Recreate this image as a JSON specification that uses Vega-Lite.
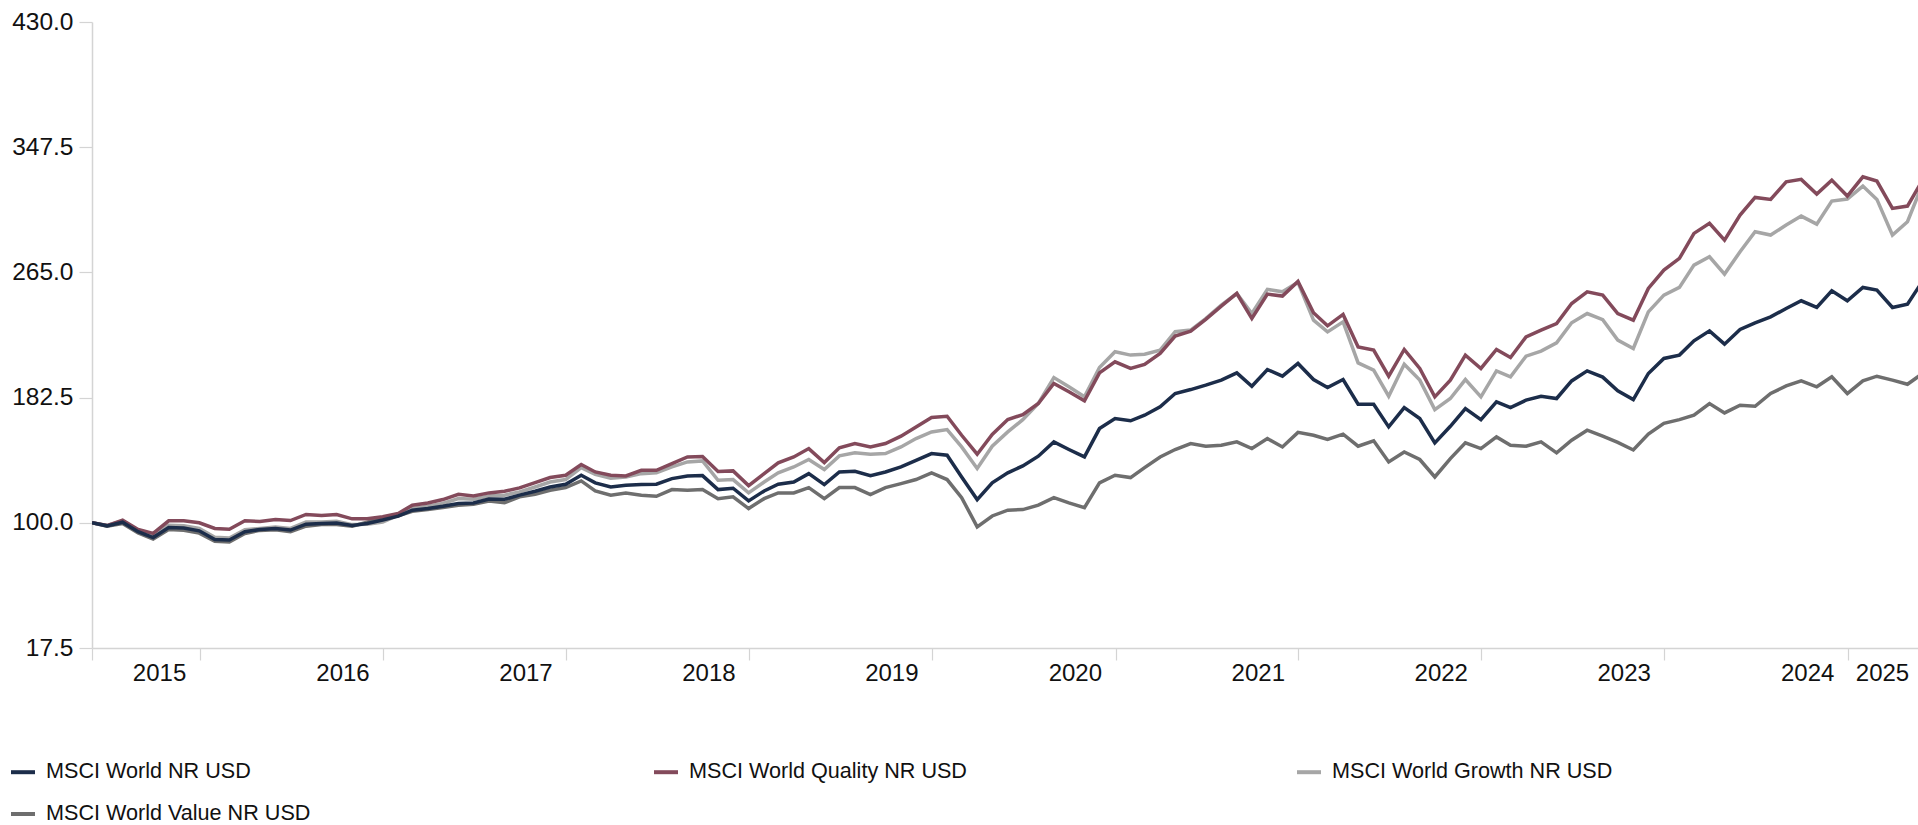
{
"$schema": "https://vega.github.io/schema/vega-lite/v6.json",
"width": 1826, "height": 626,
"autosize": {"type": "none"},
"padding": {"left": 92, "top": 22, "right": 0, "bottom": 177},
"background": "white",
"config": {"view": {"stroke": null}, "font": "Liberation Sans"},
"data": {"values": [
{"d":"2015-05-31","MSCI World NR USD":100,"MSCI World Quality NR USD":100,"MSCI World Growth NR USD":100,"MSCI World Value NR USD":100},
{"d":"2015-06-30","MSCI World NR USD":98.0,"MSCI World Quality NR USD":98.2,"MSCI World Growth NR USD":98.3,"MSCI World Value NR USD":97.7},
{"d":"2015-07-31","MSCI World NR USD":100.4,"MSCI World Quality NR USD":101.8,"MSCI World Growth NR USD":101.2,"MSCI World Value NR USD":99.6},
{"d":"2015-08-31","MSCI World NR USD":94.1,"MSCI World Quality NR USD":95.6,"MSCI World Growth NR USD":94.9,"MSCI World Value NR USD":93.3},
{"d":"2015-09-30","MSCI World NR USD":90.3,"MSCI World Quality NR USD":93.0,"MSCI World Growth NR USD":91.3,"MSCI World Value NR USD":89.3},
{"d":"2015-10-31","MSCI World NR USD":96.9,"MSCI World Quality NR USD":101.3,"MSCI World Growth NR USD":98.3,"MSCI World Value NR USD":95.6},
{"d":"2015-11-30","MSCI World NR USD":96.5,"MSCI World Quality NR USD":101.3,"MSCI World Growth NR USD":98.0,"MSCI World Value NR USD":95.1},
{"d":"2015-12-31","MSCI World NR USD":94.7,"MSCI World Quality NR USD":100.0,"MSCI World Growth NR USD":96.3,"MSCI World Value NR USD":93.2},
{"d":"2016-01-31","MSCI World NR USD":89.0,"MSCI World Quality NR USD":96.3,"MSCI World Growth NR USD":90.5,"MSCI World Value NR USD":87.8},
{"d":"2016-02-29","MSCI World NR USD":88.6,"MSCI World Quality NR USD":95.8,"MSCI World Growth NR USD":90.0,"MSCI World Value NR USD":87.3},
{"d":"2016-03-31","MSCI World NR USD":94.1,"MSCI World Quality NR USD":101.3,"MSCI World Growth NR USD":95.4,"MSCI World Value NR USD":93.0},
{"d":"2016-04-30","MSCI World NR USD":95.6,"MSCI World Quality NR USD":100.9,"MSCI World Growth NR USD":96.3,"MSCI World Value NR USD":95.0},
{"d":"2016-05-31","MSCI World NR USD":96.3,"MSCI World Quality NR USD":102.2,"MSCI World Growth NR USD":97.3,"MSCI World Value NR USD":95.4},
{"d":"2016-06-30","MSCI World NR USD":95.2,"MSCI World Quality NR USD":101.5,"MSCI World Growth NR USD":96.3,"MSCI World Value NR USD":94.1},
{"d":"2016-07-31","MSCI World NR USD":99.1,"MSCI World Quality NR USD":105.5,"MSCI World Growth NR USD":100.5,"MSCI World Value NR USD":97.8},
{"d":"2016-08-31","MSCI World NR USD":99.6,"MSCI World Quality NR USD":104.8,"MSCI World Growth NR USD":100.6,"MSCI World Value NR USD":98.8},
{"d":"2016-09-30","MSCI World NR USD":99.8,"MSCI World Quality NR USD":105.5,"MSCI World Growth NR USD":101.0,"MSCI World Value NR USD":98.9},
{"d":"2016-10-31","MSCI World NR USD":98.2,"MSCI World Quality NR USD":102.6,"MSCI World Growth NR USD":98.8,"MSCI World Value NR USD":97.8},
{"d":"2016-11-30","MSCI World NR USD":99.6,"MSCI World Quality NR USD":102.6,"MSCI World Growth NR USD":99.0,"MSCI World Value NR USD":100.4},
{"d":"2016-12-31","MSCI World NR USD":101.8,"MSCI World Quality NR USD":104.0,"MSCI World Growth NR USD":100.5,"MSCI World Value NR USD":103.2},
{"d":"2017-01-31","MSCI World NR USD":104.4,"MSCI World Quality NR USD":106.2,"MSCI World Growth NR USD":105.0,"MSCI World Value NR USD":104.7},
{"d":"2017-02-28","MSCI World NR USD":108.3,"MSCI World Quality NR USD":111.6,"MSCI World Growth NR USD":109.4,"MSCI World Value NR USD":107.6},
{"d":"2017-03-31","MSCI World NR USD":109.4,"MSCI World Quality NR USD":113.1,"MSCI World Growth NR USD":110.9,"MSCI World Value NR USD":108.7},
{"d":"2017-04-30","MSCI World NR USD":110.9,"MSCI World Quality NR USD":115.3,"MSCI World Growth NR USD":112.7,"MSCI World Value NR USD":110.0},
{"d":"2017-05-31","MSCI World NR USD":112.7,"MSCI World Quality NR USD":118.8,"MSCI World Growth NR USD":116.0,"MSCI World Value NR USD":111.6},
{"d":"2017-06-30","MSCI World NR USD":113.1,"MSCI World Quality NR USD":117.7,"MSCI World Growth NR USD":115.5,"MSCI World Value NR USD":112.2},
{"d":"2017-07-31","MSCI World NR USD":115.7,"MSCI World Quality NR USD":119.7,"MSCI World Growth NR USD":117.7,"MSCI World Value NR USD":114.4},
{"d":"2017-08-31","MSCI World NR USD":115.5,"MSCI World Quality NR USD":120.8,"MSCI World Growth NR USD":118.2,"MSCI World Value NR USD":113.3},
{"d":"2017-09-30","MSCI World NR USD":118.2,"MSCI World Quality NR USD":123.0,"MSCI World Growth NR USD":120.4,"MSCI World Value NR USD":117.1},
{"d":"2017-10-31","MSCI World NR USD":120.8,"MSCI World Quality NR USD":126.5,"MSCI World Growth NR USD":123.6,"MSCI World Value NR USD":118.8},
{"d":"2017-11-30","MSCI World NR USD":123.6,"MSCI World Quality NR USD":129.8,"MSCI World Growth NR USD":126.9,"MSCI World Value NR USD":121.4},
{"d":"2017-12-31","MSCI World NR USD":125.4,"MSCI World Quality NR USD":131.3,"MSCI World Growth NR USD":128.5,"MSCI World Value NR USD":123.2},
{"d":"2018-01-31","MSCI World NR USD":131.3,"MSCI World Quality NR USD":138.4,"MSCI World Growth NR USD":136.4,"MSCI World Value NR USD":127.6},
{"d":"2018-02-28","MSCI World NR USD":126.3,"MSCI World Quality NR USD":133.5,"MSCI World Growth NR USD":132.0,"MSCI World Value NR USD":121.0},
{"d":"2018-03-31","MSCI World NR USD":123.6,"MSCI World Quality NR USD":131.3,"MSCI World Growth NR USD":129.3,"MSCI World Value NR USD":118.2},
{"d":"2018-04-30","MSCI World NR USD":124.7,"MSCI World Quality NR USD":130.9,"MSCI World Growth NR USD":130.2,"MSCI World Value NR USD":119.7},
{"d":"2018-05-31","MSCI World NR USD":125.2,"MSCI World Quality NR USD":134.6,"MSCI World Growth NR USD":132.4,"MSCI World Value NR USD":118.2},
{"d":"2018-06-30","MSCI World NR USD":125.4,"MSCI World Quality NR USD":134.6,"MSCI World Growth NR USD":132.9,"MSCI World Value NR USD":117.5},
{"d":"2018-07-31","MSCI World NR USD":129.1,"MSCI World Quality NR USD":139.0,"MSCI World Growth NR USD":136.8,"MSCI World Value NR USD":121.9},
{"d":"2018-08-31","MSCI World NR USD":130.9,"MSCI World Quality NR USD":143.4,"MSCI World Growth NR USD":140.1,"MSCI World Value NR USD":121.4},
{"d":"2018-09-30","MSCI World NR USD":131.1,"MSCI World Quality NR USD":143.7,"MSCI World Growth NR USD":140.8,"MSCI World Value NR USD":122.0},
{"d":"2018-10-31","MSCI World NR USD":121.9,"MSCI World Quality NR USD":133.8,"MSCI World Growth NR USD":128.0,"MSCI World Value NR USD":115.9},
{"d":"2018-11-30","MSCI World NR USD":122.8,"MSCI World Quality NR USD":134.2,"MSCI World Growth NR USD":128.5,"MSCI World Value NR USD":117.1},
{"d":"2018-12-31","MSCI World NR USD":114.4,"MSCI World Quality NR USD":124.5,"MSCI World Growth NR USD":119.7,"MSCI World Value NR USD":109.4},
{"d":"2019-01-31","MSCI World NR USD":121.0,"MSCI World Quality NR USD":132.4,"MSCI World Growth NR USD":126.9,"MSCI World Value NR USD":115.9},
{"d":"2019-02-28","MSCI World NR USD":125.4,"MSCI World Quality NR USD":139.5,"MSCI World Growth NR USD":132.9,"MSCI World Value NR USD":119.7},
{"d":"2019-03-31","MSCI World NR USD":126.9,"MSCI World Quality NR USD":143.4,"MSCI World Growth NR USD":136.8,"MSCI World Value NR USD":119.7},
{"d":"2019-04-30","MSCI World NR USD":132.4,"MSCI World Quality NR USD":148.9,"MSCI World Growth NR USD":141.7,"MSCI World Value NR USD":123.2},
{"d":"2019-05-31","MSCI World NR USD":125.2,"MSCI World Quality NR USD":139.7,"MSCI World Growth NR USD":135.1,"MSCI World Value NR USD":115.9},
{"d":"2019-06-30","MSCI World NR USD":133.5,"MSCI World Quality NR USD":149.4,"MSCI World Growth NR USD":144.1,"MSCI World Value NR USD":123.2},
{"d":"2019-07-31","MSCI World NR USD":134.0,"MSCI World Quality NR USD":152.2,"MSCI World Growth NR USD":146.1,"MSCI World Value NR USD":123.2},
{"d":"2019-08-31","MSCI World NR USD":131.1,"MSCI World Quality NR USD":150.0,"MSCI World Growth NR USD":145.2,"MSCI World Value NR USD":118.6},
{"d":"2019-09-30","MSCI World NR USD":133.5,"MSCI World Quality NR USD":152.2,"MSCI World Growth NR USD":145.6,"MSCI World Value NR USD":123.2},
{"d":"2019-10-31","MSCI World NR USD":136.8,"MSCI World Quality NR USD":157.1,"MSCI World Growth NR USD":150.0,"MSCI World Value NR USD":125.8},
{"d":"2019-11-30","MSCI World NR USD":141.2,"MSCI World Quality NR USD":163.2,"MSCI World Growth NR USD":155.5,"MSCI World Value NR USD":128.5},
{"d":"2019-12-31","MSCI World NR USD":145.6,"MSCI World Quality NR USD":169.4,"MSCI World Growth NR USD":159.9,"MSCI World Value NR USD":132.9},
{"d":"2020-01-31","MSCI World NR USD":144.5,"MSCI World Quality NR USD":170.2,"MSCI World Growth NR USD":161.4,"MSCI World Value NR USD":128.5},
{"d":"2020-02-29","MSCI World NR USD":130.2,"MSCI World Quality NR USD":157.7,"MSCI World Growth NR USD":150.0,"MSCI World Value NR USD":116.6},
{"d":"2020-03-31","MSCI World NR USD":115.3,"MSCI World Quality NR USD":145.2,"MSCI World Growth NR USD":135.8,"MSCI World Value NR USD":97.3},
{"d":"2020-04-30","MSCI World NR USD":126.4,"MSCI World Quality NR USD":158.2,"MSCI World Growth NR USD":150.5,"MSCI World Value NR USD":104.5},
{"d":"2020-05-31","MSCI World NR USD":132.9,"MSCI World Quality NR USD":168.0,"MSCI World Growth NR USD":159.9,"MSCI World Value NR USD":108.3},
{"d":"2020-06-30","MSCI World NR USD":137.5,"MSCI World Quality NR USD":171.3,"MSCI World Growth NR USD":168.0,"MSCI World Value NR USD":108.7},
{"d":"2020-07-31","MSCI World NR USD":143.9,"MSCI World Quality NR USD":178.6,"MSCI World Growth NR USD":178.6,"MSCI World Value NR USD":111.6},
{"d":"2020-08-31","MSCI World NR USD":153.3,"MSCI World Quality NR USD":191.8,"MSCI World Growth NR USD":195.7,"MSCI World Value NR USD":116.6},
{"d":"2020-09-30","MSCI World NR USD":148.3,"MSCI World Quality NR USD":186.3,"MSCI World Growth NR USD":189.6,"MSCI World Value NR USD":113.1},
{"d":"2020-10-31","MSCI World NR USD":143.4,"MSCI World Quality NR USD":180.4,"MSCI World Growth NR USD":183.0,"MSCI World Value NR USD":110.0},
{"d":"2020-11-30","MSCI World NR USD":162.1,"MSCI World Quality NR USD":198.8,"MSCI World Growth NR USD":202.3,"MSCI World Value NR USD":126.3},
{"d":"2020-12-31","MSCI World NR USD":168.7,"MSCI World Quality NR USD":206.1,"MSCI World Growth NR USD":212.7,"MSCI World Value NR USD":131.3},
{"d":"2021-01-31","MSCI World NR USD":167.2,"MSCI World Quality NR USD":201.7,"MSCI World Growth NR USD":210.5,"MSCI World Value NR USD":129.8},
{"d":"2021-02-28","MSCI World NR USD":170.9,"MSCI World Quality NR USD":204.3,"MSCI World Growth NR USD":211.1,"MSCI World Value NR USD":136.4},
{"d":"2021-03-31","MSCI World NR USD":176.4,"MSCI World Quality NR USD":211.6,"MSCI World Growth NR USD":213.8,"MSCI World Value NR USD":143.4},
{"d":"2021-04-30","MSCI World NR USD":185.2,"MSCI World Quality NR USD":223.0,"MSCI World Growth NR USD":225.9,"MSCI World Value NR USD":148.3},
{"d":"2021-05-31","MSCI World NR USD":187.8,"MSCI World Quality NR USD":226.3,"MSCI World Growth NR USD":227.0,"MSCI World Value NR USD":152.2},
{"d":"2021-06-30","MSCI World NR USD":190.7,"MSCI World Quality NR USD":234.0,"MSCI World Growth NR USD":234.6,"MSCI World Value NR USD":150.5},
{"d":"2021-07-31","MSCI World NR USD":194.0,"MSCI World Quality NR USD":242.8,"MSCI World Growth NR USD":243.4,"MSCI World Value NR USD":151.1},
{"d":"2021-08-31","MSCI World NR USD":198.8,"MSCI World Quality NR USD":251.1,"MSCI World Growth NR USD":251.1,"MSCI World Value NR USD":153.3},
{"d":"2021-09-30","MSCI World NR USD":190.0,"MSCI World Quality NR USD":234.6,"MSCI World Growth NR USD":237.9,"MSCI World Value NR USD":148.9},
{"d":"2021-10-31","MSCI World NR USD":201.0,"MSCI World Quality NR USD":250.7,"MSCI World Growth NR USD":253.8,"MSCI World Value NR USD":155.5},
{"d":"2021-11-30","MSCI World NR USD":196.6,"MSCI World Quality NR USD":249.4,"MSCI World Growth NR USD":252.2,"MSCI World Value NR USD":150.0},
{"d":"2021-12-31","MSCI World NR USD":205.0,"MSCI World Quality NR USD":259.0,"MSCI World Growth NR USD":258.5,"MSCI World Value NR USD":159.6},
{"d":"2022-01-31","MSCI World NR USD":194.4,"MSCI World Quality NR USD":238.4,"MSCI World Growth NR USD":233.5,"MSCI World Value NR USD":157.7},
{"d":"2022-02-28","MSCI World NR USD":189.1,"MSCI World Quality NR USD":229.8,"MSCI World Growth NR USD":225.8,"MSCI World Value NR USD":154.9},
{"d":"2022-03-31","MSCI World NR USD":194.4,"MSCI World Quality NR USD":237.3,"MSCI World Growth NR USD":232.4,"MSCI World Value NR USD":158.4},
{"d":"2022-04-30","MSCI World NR USD":178.1,"MSCI World Quality NR USD":215.9,"MSCI World Growth NR USD":205.4,"MSCI World Value NR USD":150.5},
{"d":"2022-05-31","MSCI World NR USD":178.1,"MSCI World Quality NR USD":213.8,"MSCI World Growth NR USD":200.6,"MSCI World Value NR USD":154.0},
{"d":"2022-06-30","MSCI World NR USD":163.2,"MSCI World Quality NR USD":196.6,"MSCI World Growth NR USD":183.4,"MSCI World Value NR USD":140.1},
{"d":"2022-07-31","MSCI World NR USD":175.9,"MSCI World Quality NR USD":214.2,"MSCI World Growth NR USD":204.5,"MSCI World Value NR USD":146.7},
{"d":"2022-08-31","MSCI World NR USD":168.7,"MSCI World Quality NR USD":201.7,"MSCI World Growth NR USD":194.0,"MSCI World Value NR USD":141.7},
{"d":"2022-09-30","MSCI World NR USD":152.7,"MSCI World Quality NR USD":183.0,"MSCI World Growth NR USD":174.6,"MSCI World Value NR USD":130.2},
{"d":"2022-10-31","MSCI World NR USD":163.6,"MSCI World Quality NR USD":194.0,"MSCI World Growth NR USD":181.9,"MSCI World Value NR USD":142.3},
{"d":"2022-11-30","MSCI World NR USD":175.3,"MSCI World Quality NR USD":210.5,"MSCI World Growth NR USD":194.4,"MSCI World Value NR USD":152.7},
{"d":"2022-12-31","MSCI World NR USD":168.0,"MSCI World Quality NR USD":201.7,"MSCI World Growth NR USD":183.0,"MSCI World Value NR USD":148.9},
{"d":"2023-01-31","MSCI World NR USD":179.7,"MSCI World Quality NR USD":214.2,"MSCI World Growth NR USD":200.1,"MSCI World Value NR USD":156.6},
{"d":"2023-02-28","MSCI World NR USD":175.9,"MSCI World Quality NR USD":208.9,"MSCI World Growth NR USD":196.2,"MSCI World Value NR USD":151.1},
{"d":"2023-03-31","MSCI World NR USD":180.8,"MSCI World Quality NR USD":222.5,"MSCI World Growth NR USD":209.8,"MSCI World Value NR USD":150.5},
{"d":"2023-04-30","MSCI World NR USD":183.4,"MSCI World Quality NR USD":226.9,"MSCI World Growth NR USD":213.1,"MSCI World Value NR USD":153.3},
{"d":"2023-05-31","MSCI World NR USD":181.9,"MSCI World Quality NR USD":231.3,"MSCI World Growth NR USD":218.6,"MSCI World Value NR USD":146.1},
{"d":"2023-06-30","MSCI World NR USD":193.5,"MSCI World Quality NR USD":244.5,"MSCI World Growth NR USD":231.8,"MSCI World Value NR USD":154.4},
{"d":"2023-07-31","MSCI World NR USD":200.1,"MSCI World Quality NR USD":252.2,"MSCI World Growth NR USD":237.9,"MSCI World Value NR USD":161.0},
{"d":"2023-08-31","MSCI World NR USD":196.0,"MSCI World Quality NR USD":250.0,"MSCI World Growth NR USD":233.8,"MSCI World Value NR USD":157.1},
{"d":"2023-09-30","MSCI World NR USD":187.0,"MSCI World Quality NR USD":237.9,"MSCI World Growth NR USD":220.4,"MSCI World Value NR USD":153.0},
{"d":"2023-10-31","MSCI World NR USD":181.2,"MSCI World Quality NR USD":233.5,"MSCI World Growth NR USD":214.9,"MSCI World Value NR USD":148.0},
{"d":"2023-11-30","MSCI World NR USD":198.4,"MSCI World Quality NR USD":254.4,"MSCI World Growth NR USD":239.0,"MSCI World Value NR USD":158.5},
{"d":"2023-12-31","MSCI World NR USD":208.3,"MSCI World Quality NR USD":266.5,"MSCI World Growth NR USD":250.0,"MSCI World Value NR USD":165.5},
{"d":"2024-01-31","MSCI World NR USD":210.5,"MSCI World Quality NR USD":274.2,"MSCI World Growth NR USD":255.1,"MSCI World Value NR USD":168.0},
{"d":"2024-02-29","MSCI World NR USD":219.9,"MSCI World Quality NR USD":290.7,"MSCI World Growth NR USD":269.8,"MSCI World Value NR USD":170.9},
{"d":"2024-03-31","MSCI World NR USD":226.5,"MSCI World Quality NR USD":297.3,"MSCI World Growth NR USD":275.3,"MSCI World Value NR USD":178.6},
{"d":"2024-04-30","MSCI World NR USD":217.7,"MSCI World Quality NR USD":286.3,"MSCI World Growth NR USD":263.9,"MSCI World Value NR USD":172.4},
{"d":"2024-05-31","MSCI World NR USD":227.4,"MSCI World Quality NR USD":302.8,"MSCI World Growth NR USD":278.6,"MSCI World Value NR USD":177.5},
{"d":"2024-06-30","MSCI World NR USD":231.8,"MSCI World Quality NR USD":314.4,"MSCI World Growth NR USD":291.8,"MSCI World Value NR USD":176.8},
{"d":"2024-07-31","MSCI World NR USD":235.7,"MSCI World Quality NR USD":313.1,"MSCI World Growth NR USD":289.6,"MSCI World Value NR USD":185.2},
{"d":"2024-08-31","MSCI World NR USD":241.2,"MSCI World Quality NR USD":324.7,"MSCI World Growth NR USD":296.2,"MSCI World Value NR USD":190.2},
{"d":"2024-09-30","MSCI World NR USD":246.3,"MSCI World Quality NR USD":326.3,"MSCI World Growth NR USD":302.1,"MSCI World Value NR USD":193.5},
{"d":"2024-10-31","MSCI World NR USD":241.9,"MSCI World Quality NR USD":316.6,"MSCI World Growth NR USD":296.8,"MSCI World Value NR USD":189.6},
{"d":"2024-11-30","MSCI World NR USD":252.9,"MSCI World Quality NR USD":325.8,"MSCI World Growth NR USD":312.0,"MSCI World Value NR USD":196.2},
{"d":"2024-12-31","MSCI World NR USD":246.3,"MSCI World Quality NR USD":315.3,"MSCI World Growth NR USD":313.3,"MSCI World Value NR USD":185.2},
{"d":"2025-01-31","MSCI World NR USD":255.1,"MSCI World Quality NR USD":328.0,"MSCI World Growth NR USD":321.9,"MSCI World Value NR USD":193.5},
{"d":"2025-02-28","MSCI World NR USD":253.3,"MSCI World Quality NR USD":325.2,"MSCI World Growth NR USD":313.1,"MSCI World Value NR USD":196.6},
{"d":"2025-03-31","MSCI World NR USD":241.9,"MSCI World Quality NR USD":307.2,"MSCI World Growth NR USD":289.6,"MSCI World Value NR USD":194.0},
{"d":"2025-04-30","MSCI World NR USD":244.1,"MSCI World Quality NR USD":308.7,"MSCI World Growth NR USD":298.4,"MSCI World Value NR USD":191.3},
{"d":"2025-05-31","MSCI World NR USD":259.7,"MSCI World Quality NR USD":326.3,"MSCI World Growth NR USD":323.9,"MSCI World Value NR USD":198.6}
]},
"transform": [{"fold": ["MSCI World Value NR USD","MSCI World Growth NR USD","MSCI World Quality NR USD","MSCI World NR USD"], "as": ["series","v"]}],
"mark": {"type": "line", "strokeWidth": 3.5, "clip": true},
"encoding": {
  "x": {"field": "d", "type": "temporal",
    "scale": {"type": "utc", "domain": [{"year":2015,"month":5,"date":31,"utc":true},{"year":2025,"month":5,"date":21,"utc":true}]},
    "axis": {"title": null, "grid": false,
      "values": [{"year":2015,"month":5,"date":31,"utc":true},{"year":2016,"month":1,"date":1,"utc":true},{"year":2017,"month":1,"date":1,"utc":true},{"year":2018,"month":1,"date":1,"utc":true},{"year":2019,"month":1,"date":1,"utc":true},{"year":2020,"month":1,"date":1,"utc":true},{"year":2021,"month":1,"date":1,"utc":true},{"year":2022,"month":1,"date":1,"utc":true},{"year":2023,"month":1,"date":1,"utc":true},{"year":2024,"month":1,"date":1,"utc":true},{"year":2025,"month":1,"date":1,"utc":true},{"year":2025,"month":1,"date":2,"utc":true}],
      "labelExpr": "datum.value > 1735700000000 ? '2025' : (datum.value < 1440000000000 ? '' : '' + (utcyear(datum.value) - 1))",
      "labelAlign": {"condition": {"test": "datum.value > 1735700000000", "value": "left"}, "value": "right"},
      "labelOffset": {"condition": {"test": "datum.value > 1735700000000", "value": 7}, "value": -14},
      "tickOpacity": {"condition": {"test": "datum.value > 1735700000000", "value": 0}, "value": 1},
      "tickSize": 12, "tickColor": "#d4d4d4", "tickWidth": 1.2, "domainColor": "#d4d4d4", "domainWidth": 1.5,
      "labelFontSize": 24, "labelColor": "#111111", "labelPadding": 1, "labelOverlap": false, "labelFlush": false, "labelFont": "Liberation Sans"}
  },
  "y": {"field": "v", "type": "quantitative",
    "scale": {"domain": [17.5, 430], "nice": false, "zero": false},
    "axis": {"title": null, "grid": false, "values": [17.5,100,182.5,265,347.5,430], "format": ".1f",
      "tickSize": 13, "tickColor": "#d4d4d4", "tickWidth": 1.2, "domainColor": "#d4d4d4", "domainWidth": 1.5,
      "labelFontSize": 24.5, "labelColor": "#111111", "labelPadding": 6, "labelFont": "Liberation Sans"}
  },
  "color": {"field": "series", "type": "nominal",
    "scale": {"domain": ["MSCI World NR USD","MSCI World Quality NR USD","MSCI World Growth NR USD","MSCI World Value NR USD"],
              "range": ["#1c2d4a","#834a5b","#a6a6a6","#6e6e6e"]},
    "legend": {"title": null, "orient": "none", "legendX": -83, "legendY": 736, "direction": "horizontal", "columns": 3, "gridAlign": "all",
      "columnPadding": 319, "rowPadding": 17, "symbolType": "stroke", "symbolSize": 576, "symbolStrokeWidth": 4,
      "labelFontSize": 21.6, "labelLimit": 500, "labelOffset": 9, "labelColor": "#111111", "labelFont": "Liberation Sans", "padding": 0}
  }
}
}
